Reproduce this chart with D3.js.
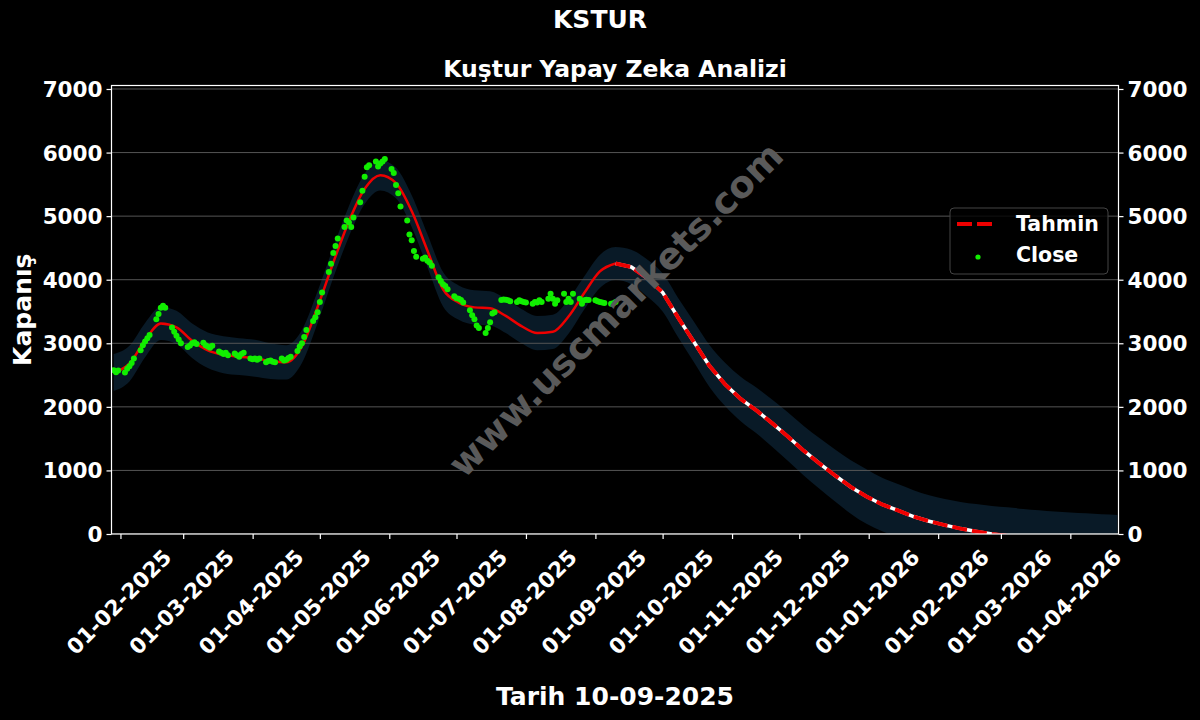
<!DOCTYPE html>
<html>
<head>
<meta charset="utf-8">
<script src="https://cdn.jsdelivr.net/npm/d3@7"></script>
<style>
  html, body { margin: 0; padding: 0; background: #000; }
  svg { display: block; }
  text { font-family: "DejaVu Sans", sans-serif; font-weight: bold; fill: #fff; }
</style>
</head>
<body>
<svg id="chart" width="1200" height="720"></svg>
<script>
// ---------- DATA ----------
const title = "KSTUR";
const subtitle = "Kuştur Yapay Zeka Analizi";
const yLabel = "Kapanış";
const xLabel = "Tarih 10-09-2025";
const watermark = "www.uscmarkets.com";
const legendLabels = ["Tahmin", "Close"];

const yTicks = [0, 1000, 2000, 3000, 4000, 5000, 6000, 7000];
const xTickDates = ["2025-02-01","2025-03-01","2025-04-01","2025-05-01","2025-06-01","2025-07-01",
  "2025-08-01","2025-09-01","2025-10-01","2025-11-01","2025-12-01","2026-01-01","2026-02-01",
  "2026-03-01","2026-04-01"];

// Close (daily, weekdays)
const closeDates = [
  "2025-01-29","2025-01-30","2025-01-31",
  "2025-02-03","2025-02-04","2025-02-05","2025-02-06","2025-02-07",
  "2025-02-10","2025-02-11","2025-02-12","2025-02-13","2025-02-14",
  "2025-02-17","2025-02-18","2025-02-19","2025-02-20","2025-02-21",
  "2025-02-24","2025-02-25","2025-02-26","2025-02-27","2025-02-28",
  "2025-03-03","2025-03-04","2025-03-05","2025-03-06","2025-03-07",
  "2025-03-10","2025-03-11","2025-03-12","2025-03-13","2025-03-14",
  "2025-03-17","2025-03-18","2025-03-19","2025-03-20","2025-03-21",
  "2025-03-24","2025-03-25","2025-03-26","2025-03-27","2025-03-28",
  "2025-03-31","2025-04-01","2025-04-02","2025-04-03","2025-04-04",
  "2025-04-07","2025-04-08","2025-04-09","2025-04-10","2025-04-11",
  "2025-04-14","2025-04-15","2025-04-16","2025-04-17","2025-04-18",
  "2025-04-21","2025-04-22","2025-04-23","2025-04-24","2025-04-25",
  "2025-04-28","2025-04-29","2025-04-30","2025-05-01","2025-05-02",
  "2025-05-05","2025-05-06","2025-05-07","2025-05-08","2025-05-09",
  "2025-05-12","2025-05-13","2025-05-14","2025-05-15","2025-05-16",
  "2025-05-19","2025-05-20","2025-05-21","2025-05-22","2025-05-23",
  "2025-05-26","2025-05-27","2025-05-28","2025-05-29","2025-05-30",
  "2025-06-02","2025-06-03","2025-06-04","2025-06-05","2025-06-06",
  "2025-06-09","2025-06-10","2025-06-11","2025-06-12","2025-06-13",
  "2025-06-16","2025-06-17","2025-06-18","2025-06-19","2025-06-20",
  "2025-06-23","2025-06-24","2025-06-25","2025-06-26","2025-06-27",
  "2025-06-30","2025-07-01","2025-07-02","2025-07-03","2025-07-04",
  "2025-07-07","2025-07-08","2025-07-09","2025-07-10","2025-07-11",
  "2025-07-14","2025-07-15","2025-07-16","2025-07-17","2025-07-18",
  "2025-07-21","2025-07-22","2025-07-23","2025-07-24","2025-07-25",
  "2025-07-28","2025-07-29","2025-07-30","2025-07-31","2025-08-01",
  "2025-08-04","2025-08-05","2025-08-06","2025-08-07","2025-08-08",
  "2025-08-11","2025-08-12","2025-08-13","2025-08-14","2025-08-15",
  "2025-08-18","2025-08-19","2025-08-20","2025-08-21","2025-08-22",
  "2025-08-25","2025-08-26","2025-08-27","2025-08-28","2025-08-29",
  "2025-09-01","2025-09-02","2025-09-03","2025-09-04","2025-09-05",
  "2025-09-08","2025-09-09","2025-09-10"
];
const closeValues = [
  2575,2545,2570,
  2540,2600,2640,2690,2760,
  2890,2970,3030,3080,3130,
  3380,3460,3560,3590,3560,
  3250,3180,3120,3060,3000,
  2940,2965,3000,3015,2990,
  3010,2970,2950,2930,2960,
  2870,2850,2830,2850,2810,
  2840,2810,2790,2830,2850,
  2760,2750,2760,2740,2760,
  2700,2720,2730,2710,2700,
  2760,2730,2740,2770,2790,
  2880,2950,3000,3100,3210,
  3350,3410,3490,3650,3800,
  4120,4250,4420,4530,4650,
  4830,4930,4900,4830,4980,
  5220,5400,5620,5770,5800,
  5860,5780,5830,5860,5900,
  5740,5680,5490,5360,5150,
  4930,4710,4620,4450,4360,
  4330,4350,4300,4270,4220,
  4040,3980,3930,3900,3850,
  3740,3710,3700,3680,3640,
  3520,3440,3380,3280,3240,
  3160,3240,3330,3470,3490,
  3680,3690,3685,3675,3660,
  3650,3675,3660,3650,3640,
  3620,3650,3640,3675,3650,
  3700,3780,3700,3620,3675,
  3780,3650,3700,3650,3780,
  3700,3620,3675,3685,3680,
  3675,3660,3650,3640,3635,
  3620,3630,3650
];

// Tahmin (model fit, weekly) – history part
const fitDates = ["2025-01-29","2025-02-05","2025-02-12","2025-02-19","2025-02-26","2025-03-05",
  "2025-03-12","2025-03-19","2025-03-26","2025-04-02","2025-04-09","2025-04-16","2025-04-23",
  "2025-04-30","2025-05-07","2025-05-14","2025-05-21","2025-05-28","2025-06-04","2025-06-11",
  "2025-06-18","2025-06-25","2025-07-02","2025-07-09","2025-07-16","2025-07-23","2025-07-30",
  "2025-08-06","2025-08-13","2025-08-20","2025-08-27","2025-09-03","2025-09-10"];
const fitValues = [2540,2680,3050,3310,3250,3040,2890,2820,2790,2765,2720,2700,2950,
  3570,4270,4920,5430,5645,5520,5080,4460,3850,3640,3565,3550,3430,3270,3160,3180,
  3420,3790,4130,4255];
const fitBand = [290,280,270,260,260,270,280,290,290,290,280,270,260,
  250,240,240,240,240,240,250,260,270,270,270,270,270,270,270,270,270,260,260,260];

// Tahmin – forecast part (weekly)
const fcDates = ["2025-09-10","2025-09-17","2025-09-24","2025-10-01","2025-10-08","2025-10-15",
  "2025-10-22","2025-10-29","2025-11-05","2025-11-12","2025-11-19","2025-11-26","2025-12-03",
  "2025-12-10","2025-12-17","2025-12-24","2025-12-31","2026-01-07","2026-01-14","2026-01-21",
  "2026-01-28","2026-02-04","2026-02-11","2026-02-18","2026-02-25","2026-03-04","2026-03-11",
  "2026-03-18","2026-03-25","2026-04-01","2026-04-08","2026-04-15","2026-04-22"];
const fcValues = [4255,4200,4030,3800,3400,3020,2640,2350,2120,1940,1740,1530,1310,
  1110,920,740,590,465,370,275,200,140,85,40,0,-30,-55,-75,-95,-110,-125,-140,-150];
const fcBand = [260,270,290,300,310,320,330,340,350,360,370,380,390,400,410,420,430,
  420,415,415,410,410,420,430,440,450,450,450,450,450,450,450,450];

// ---------- CHART ----------
const parse = d3.timeParse("%Y-%m-%d");
const W = 1200, H = 720;
const plot = { left: 111.5, right: 1118.5, top: 85.5, bottom: 534 };

const svg = d3.select("#chart");
svg.append("rect").attr("width", W).attr("height", H).attr("fill", "#000");

const x = d3.scaleTime()
  .domain([new Date(2025, 0, 28), new Date(2026, 3, 22, 12)])
  .range([plot.left, plot.right]);
const y = d3.scaleLinear().domain([0, 7055]).range([plot.bottom, plot.top]);

svg.append("defs").append("clipPath").attr("id", "clip")
  .append("rect").attr("x", plot.left).attr("y", plot.top)
  .attr("width", plot.right - plot.left).attr("height", plot.bottom - plot.top);

const g = svg.append("g").attr("clip-path", "url(#clip)");

const fitPts = fitDates.map((d, i) => ({ d: parse(d), v: fitValues[i], b: fitBand[i] }));
const fcPts = fcDates.map((d, i) => ({ d: parse(d), v: fcValues[i], b: fcBand[i] }));
const bandPts = fitPts.concat(fcPts.slice(1));

// band
g.append("path").datum(bandPts)
  .attr("fill", "#091a27")
  .attr("d", d3.area().x(p => x(p.d)).y0(p => y(p.v - p.b)).y1(p => y(p.v + p.b))
    .curve(d3.curveMonotoneX));

// grid
g.selectAll("line.grid").data(yTicks).enter().append("line")
  .attr("x1", plot.left).attr("x2", plot.right)
  .attr("y1", d => y(d)).attr("y2", d => y(d))
  .attr("stroke", "#555").attr("stroke-width", 1);

// watermark
svg.append("text")
  .attr("transform", "translate(616,310) rotate(-45)")
  .attr("text-anchor", "middle").attr("dominant-baseline", "central")
  .style("font-size", "37px").style("fill", "#5a5a5a")
  .text(watermark);

// fit line (history)
g.append("path").datum(fitPts)
  .attr("fill", "none").attr("stroke", "#ee0000").attr("stroke-width", 2.5)
  .attr("d", d3.line().x(p => x(p.d)).y(p => y(p.v)).curve(d3.curveMonotoneX));

// forecast: white underlay + red dashed
const fcLine = d3.line().x(p => x(p.d)).y(p => y(p.v)).curve(d3.curveLinear);
g.append("path").datum(fcPts)
  .attr("fill", "none").attr("stroke", "#fff").attr("stroke-width", 3.5)
  .attr("d", fcLine);
g.append("path").datum(fcPts)
  .attr("fill", "none").attr("stroke", "#ee0000").attr("stroke-width", 4)
  .attr("stroke-dasharray", "15,5")
  .attr("d", fcLine);

// close points
g.selectAll("circle.close").data(closeDates).enter().append("circle")
  .attr("cx", d => x(parse(d)))
  .attr("cy", (d, i) => y(closeValues[i]))
  .attr("r", 3).attr("fill", "#11ee00");

// frame
svg.append("rect").attr("x", plot.left).attr("y", plot.top)
  .attr("width", plot.right - plot.left).attr("height", plot.bottom - plot.top)
  .attr("fill", "none").attr("stroke", "#fff").attr("stroke-width", 1.2);

// axes
const tickFmt = d3.format("d");
const yl = svg.append("g").attr("transform", `translate(${plot.left},0)`)
  .call(d3.axisLeft(y).tickValues(yTicks).tickFormat(tickFmt).tickSize(5).tickPadding(4));
const yr = svg.append("g").attr("transform", `translate(${plot.right},0)`)
  .call(d3.axisRight(y).tickValues(yTicks).tickFormat(tickFmt).tickSize(5).tickPadding(4));
const xa = svg.append("g").attr("transform", `translate(0,${plot.bottom})`)
  .call(d3.axisBottom(x).tickValues(xTickDates.map(parse))
    .tickFormat(d3.timeFormat("%d-%m-%Y")).tickSize(5));

[yl, yr, xa].forEach(a => {
  a.select(".domain").remove();
  a.selectAll(".tick line").attr("stroke", "#fff").attr("stroke-width", 1.2);
  a.selectAll(".tick text").style("font-size", "21.5px").style("font-family", "DejaVu Sans")
    .style("font-weight", "bold").attr("fill", "#fff");
});
yl.selectAll(".tick text").attr("dy", "0.35em");
yr.selectAll(".tick text").attr("dy", "0.35em");
xa.selectAll(".tick text")
  .attr("text-anchor", "middle")
  .attr("dy", null).attr("y", 0)
  .attr("dominant-baseline", "central")
  .attr("transform", "translate(-2,68) rotate(-45)");

// titles
svg.append("text").attr("x", 600).attr("y", 28).attr("text-anchor", "middle")
  .style("font-size", "25px").text(title);
svg.append("text").attr("x", (plot.left + plot.right) / 2).attr("y", 77).attr("text-anchor", "middle")
  .style("font-size", "23.5px").text(subtitle);
svg.append("text").attr("x", (plot.left + plot.right) / 2).attr("y", 705).attr("text-anchor", "middle")
  .style("font-size", "25px").text(xLabel);
svg.append("text").attr("transform", `translate(31,${(plot.top + plot.bottom) / 2}) rotate(-90)`)
  .attr("text-anchor", "middle").style("font-size", "25px").text(yLabel);

// legend
const lg = svg.append("g");
lg.append("rect").attr("x", 950).attr("y", 208).attr("width", 158).attr("height", 66)
  .attr("rx", 4).attr("fill", "#000").attr("fill-opacity", 0.8)
  .attr("stroke", "#444").attr("stroke-width", 1);
lg.append("line").attr("x1", 957).attr("x2", 995).attr("y1", 224).attr("y2", 224)
  .attr("stroke", "#ee0000").attr("stroke-width", 4).attr("stroke-dasharray", "15,5");
lg.append("circle").attr("cx", 978).attr("cy", 257).attr("r", 2.6).attr("fill", "#11ee00");
lg.append("text").attr("x", 1016).attr("y", 224).attr("dominant-baseline", "central")
  .style("font-size", "20.5px").text(legendLabels[0]);
lg.append("text").attr("x", 1016).attr("y", 255).attr("dominant-baseline", "central")
  .style("font-size", "20.5px").text(legendLabels[1]);
</script>
</body>
</html>
